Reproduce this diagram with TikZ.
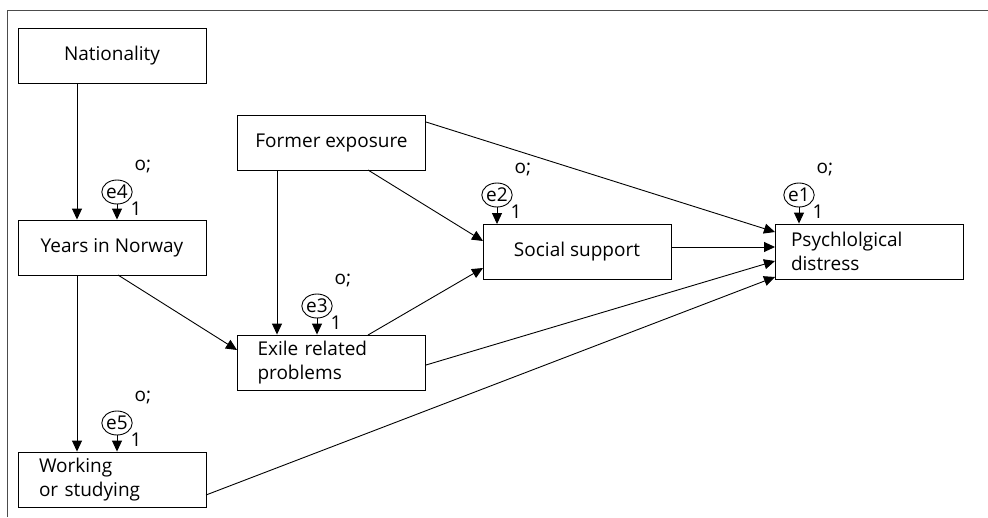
\documentclass[tikz,border=0pt]{standalone}
\usepackage{fontspec}
\setmainfont{Open Sans}
\usetikzlibrary{arrows.meta,shapes.geometric}
\begin{document}
\begin{tikzpicture}[x=1pt,y=-1pt,
  box/.style={draw,line width=0.9pt,minimum width=188pt,minimum height=55pt,inner sep=0pt,font=\fontsize{19}{24.5}\selectfont},
  lbox/.style={box,align=left},
  err/.style={draw,ellipse,line width=0.9pt,minimum width=29pt,minimum height=24pt,inner sep=0pt,font=\fontsize{19}{19}\selectfont},
  lab/.style={font=\fontsize{19}{19}\selectfont,inner sep=0pt},
  arr/.style={line width=0.9pt,-{Triangle[length=11pt,width=10pt]}}]
\useasboundingbox (0,0) rectangle (988,517);
\draw[line width=1pt,black!70] (7,517) -- (7,10) -- (988,10);
% boxes
\node[box] (nat) at (112,55.5) {Nationality};
\node[box] (yrs) at (112,247.5) {Years in Norway};
\node[lbox,text width=146pt] (work) at (112,479.5) {Working\\or studying};
\node[box] (form) at (331.5,142.5) {Former exposure};
\node[lbox,text width=148pt] (exile) at (331.5,362.5) {Exile related\\problems};
\node[box] (soc) at (577,252) {Social support};
\node[lbox,text width=156pt] (psy) at (869,251.5) {Psychlolgical\\distress};
% error terms
\node[err] (e4) at (117,192) {e4};
\node[err] (e5) at (117,423) {e5};
\node[err] (e3) at (317,306) {e3};
\node[err] (e2) at (497,195) {e2};
\node[err] (e1) at (799,195) {e1};
\node[lab] (o4) at (143,167) {o;};
\node[lab] (o5) at (143,398) {o;};
\node[lab] (o3) at (343,281) {o;};
\node[lab] (o2) at (523,170) {o;};
\node[lab] (o1) at (825,170) {o;};
\node[lab] (n4) at (136,209) {1};
\node[lab] (n5) at (136,440) {1};
\node[lab] (n3) at (336,323) {1};
\node[lab] (n2) at (516,212) {1};
\node[lab] (n1) at (818,212) {1};
\draw[arr] (e4) -- (e4 |- yrs.north);
\draw[arr] (e5) -- (e5 |- work.north);
\draw[arr] (e3) -- (e3 |- exile.north);
\draw[arr] (e2) -- (e2 |- soc.north);
\draw[arr] (e1) -- (e1 |- psy.north);
% connectors
\coordinate (a1) at (77,83);
\draw[arr] (a1) -- (a1 |- yrs.north);
\coordinate (a2) at (77,275);
\draw[arr] (a2) -- (a2 |- work.north);
\coordinate (a3) at (277,170);
\draw[arr] (a3) -- (a3 |- exile.north);
\coordinate (b1) at (118,275);
\coordinate (b1e) at (237,350);
\draw[arr] (b1) -- (b1e);
\coordinate (b2) at (368,170);
\coordinate (b2e) at (483,241);
\draw[arr] (b2) -- (b2e);
\coordinate (b3) at (368,335);
\coordinate (b3e) at (483,268);
\draw[arr] (b3) -- (b3e);
\coordinate (c1) at (426,122);
\coordinate (c1e) at (775,232);
\draw[arr] (c1) -- (c1e);
\coordinate (c2) at (671,247);
\coordinate (c2e) at (775,247);
\draw[arr] (c2) -- (c2e);
\coordinate (c3) at (426,365);
\coordinate (c3e) at (775,261);
\draw[arr] (c3) -- (c3e);
\coordinate (c4) at (206,495);
\coordinate (c4e) at (775,277);
\draw[arr] (c4) -- (c4e);
\end{tikzpicture}
\end{document}
